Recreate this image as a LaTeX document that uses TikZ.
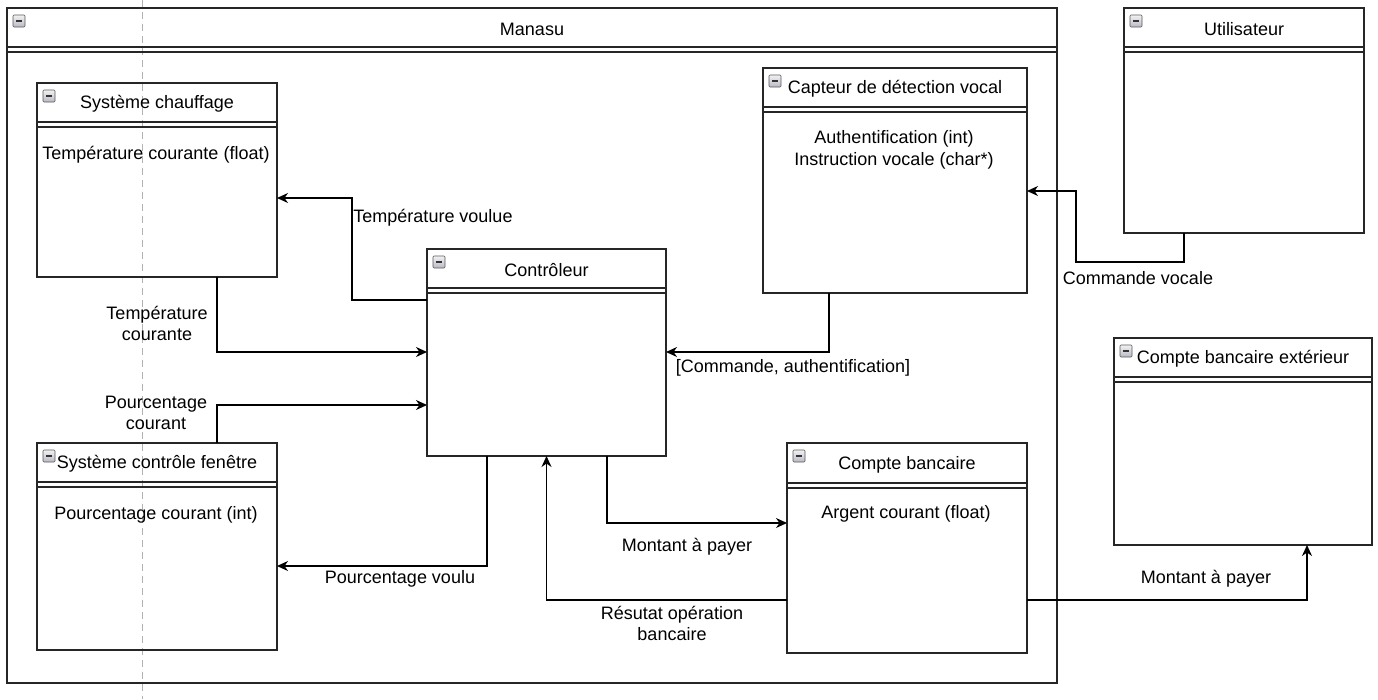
\documentclass[tikz,border=0pt]{standalone}
\usepackage{fontspec}
\setmainfont{Liberation Sans}
\usetikzlibrary{arrows.meta,calc}
\tikzset{
  x=1pt,y=-1pt,
  umlbox/.style={draw=black!85,line width=1.5pt,inner sep=0pt,outer sep=0pt,rectangle,anchor=north west},
  hline/.style={draw=black!85,line width=1.5pt},
  ttl/.style={font=\fontsize{18}{21}\selectfont,inner sep=0pt,anchor=center},
  attr/.style={font=\fontsize{18}{22}\selectfont,inner sep=0pt,align=center,anchor=center},
  lbl/.style={font=\fontsize{18}{21}\selectfont,inner sep=0pt,align=center,anchor=center},
  conn/.style={draw=black,line width=1.3pt,-{Stealth[length=11pt,width=10pt,inset=3.5pt]}},
  iconbox/.style={draw=gray!70!black,line width=0.6pt,top color=blue!5!gray!10,bottom color=blue!10!gray!50,rounded corners=1pt},
}
\newcommand{\umlclass}[7]{%
  \node[umlbox,minimum width=#4pt,minimum height=#5pt] (#1) at (#2,#3) {};
  \draw[hline] ([yshift=-#6pt]#1.north west) -- ([yshift=-#6pt]#1.north east);
  \draw[hline] ([yshift=-#6pt-5pt]#1.north west) -- ([yshift=-#6pt-5pt]#1.north east);
  \node[ttl] (#1-t) at ([yshift=-#6pt/2-1.5pt]#1.north) {#7};
  \path[iconbox] ([xshift=6pt,yshift=-7pt]#1.north west) rectangle ++(12,12);
  \draw[black!80,line width=1.3pt] ([xshift=9pt,yshift=-13pt]#1.north west) -- ++(6,0);
}
\begin{document}
\begin{tikzpicture}
\useasboundingbox[fill=white] (0,0) rectangle (1378,699);
\draw[gray!60,line width=1pt,dash pattern=on 7pt off 5pt] (142,0) -- (142,699);
% container
\umlclass{manasu}{7}{8}{1050}{675}{39}{Manasu}
% classes
\umlclass{chauf}{37}{83}{240}{194}{39}{Système chauffage}
\umlclass{ctrl}{427}{249}{239}{207}{39}{Contrôleur}
\umlclass{capt}{763}{68}{264}{225}{39}{Capteur de détection vocal}
\umlclass{user}{1124}{8}{240}{225}{39}{Utilisateur}
\umlclass{ext}{1114}{338}{258}{207}{39}{Compte bancaire extérieur}
\umlclass{fen}{37}{443}{240}{207}{39}{Système contrôle fenêtre}
\umlclass{bank}{787}{443}{240}{210}{40}{Compte bancaire}
% attributes
\node[attr] (chauf-a) at (156,155) {Température courante (float)};
\node[attr] (capt-a) at (894,150) {Authentification (int)\\Instruction vocale (char*)};
\node[attr] (fen-a) at (156,515) {Pourcentage courant (int)};
\node[attr] (bank-a) at (906,514) {Argent courant (float)};
% connectors
\draw[conn] ([yshift=-51pt]ctrl.north west) -- ++(-75,0) |- ([yshift=-115pt]chauf.north east);
\draw[conn] ([xshift=-60pt]chauf.south east) |- ([yshift=-103pt]ctrl.north west);
\draw[conn] ([xshift=-60pt]fen.north east) |- ([yshift=-156pt]ctrl.north west);
\draw[conn] ([xshift=60pt]ctrl.south west) |- ([yshift=-123pt]fen.north east);
\draw[conn] ([xshift=180pt]ctrl.south west) |- ([yshift=-80pt]bank.north west);
\draw[conn] ([yshift=-157pt]bank.north west) -| (ctrl.south);
\draw[conn] ([xshift=66pt]capt.south west) |- ([yshift=-103pt]ctrl.north east);
\draw[conn] ([xshift=60pt]user.south west) -- ++(0,29) -- ++(-108,0) |- ([yshift=-123pt]capt.north east);
\draw[conn] ([yshift=-157pt]bank.north east) -| ([xshift=193pt]ext.south west);
% labels
\node[lbl] (l1) at (433,218) {Température voulue};
\node[lbl] (l2) at (157,323) {Température\\courante};
\node[lbl] (l3) at (156,413) {Pourcentage\\courant};
\node[lbl] (l4) at (400,579) {Pourcentage voulu};
\node[lbl] (l5) at (687,547) {Montant à payer};
\node[lbl] (l6) at (672,623) {Résutat opération\\bancaire};
\node[lbl] (l7) at (793,368) {[Commande, authentification]};
\node[lbl] (l8) at (1138,278) {Commande vocale};
\node[lbl] (l9) at (1206,579) {Montant à payer};
\end{tikzpicture}
\end{document}
